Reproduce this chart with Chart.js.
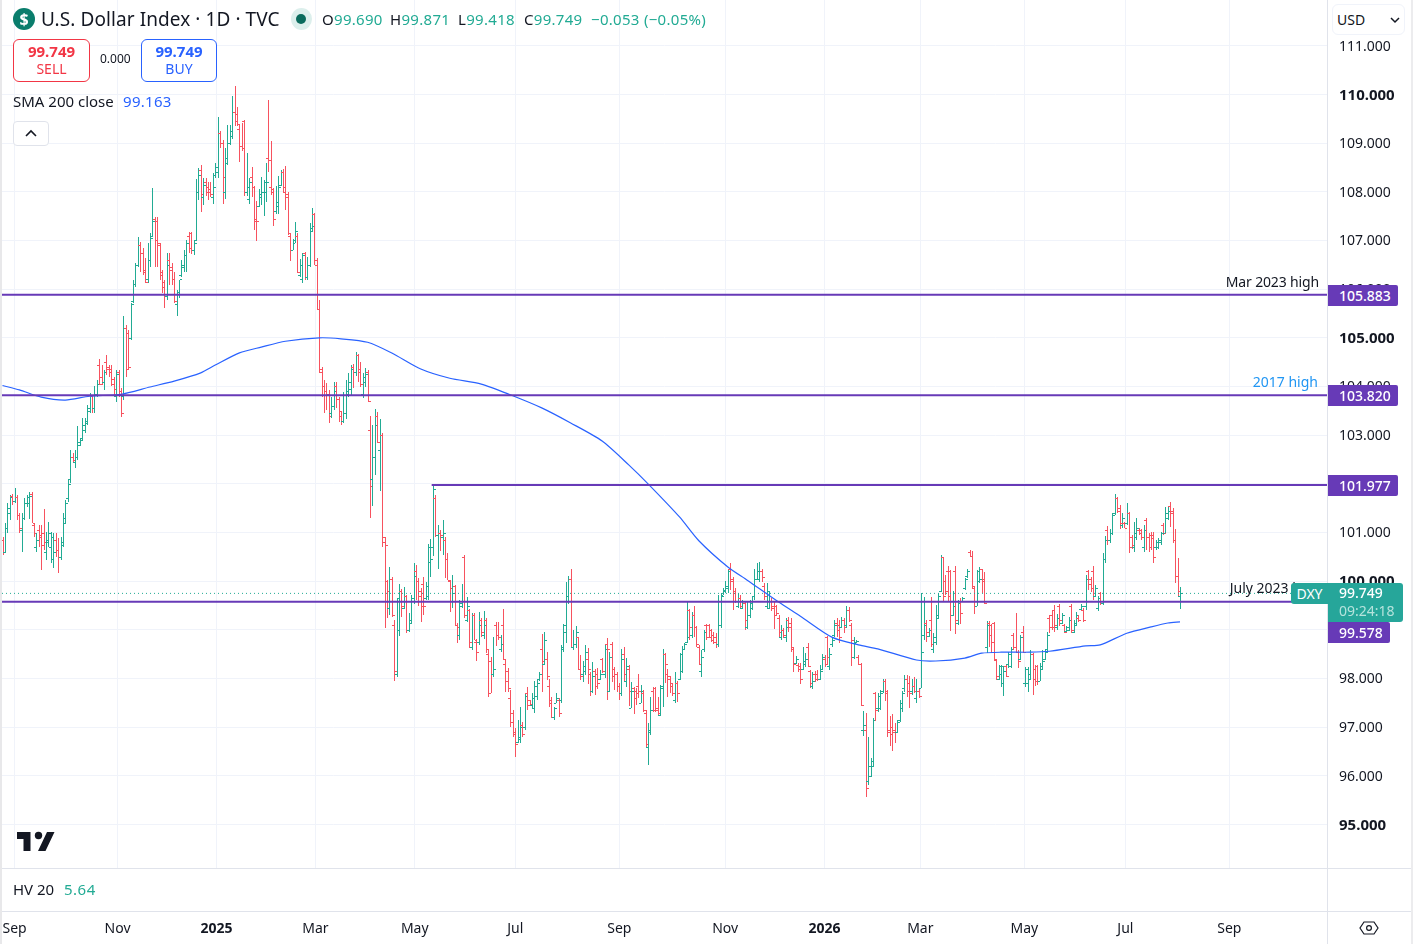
<!DOCTYPE html>
<html><head><meta charset="utf-8">
<script src="https://cdn.jsdelivr.net/npm/chart.js@4"></script>
<style>
html,body{margin:0;padding:0;background:#fff;width:1413px;height:944px;overflow:hidden;font-family:"Noto Sans",sans-serif;color:#131722}
#wrap{position:relative;width:1413px;height:944px}
canvas{position:absolute;left:0;top:0}
.t{position:absolute;white-space:nowrap;line-height:1}
.r{position:absolute}
.badge{position:absolute;left:1328px;background:#673ab7;color:#fff;font-size:14px;font-weight:500;height:21px;line-height:21px;padding-left:11px;box-sizing:border-box;border-radius:0 2px 2px 0}
.v{letter-spacing:.3px}
</style></head><body><div id="wrap">
<canvas id="c" width="1413" height="944"></canvas>

<div class="r" style="left:0;top:0;width:2px;height:944px;background:#e8e8ea"></div>
<div class="r" style="left:1411px;top:0;width:2px;height:944px;background:#ececee"></div>
<div class="r" style="left:1327px;top:0;width:1px;height:944px;background:#e0e3eb"></div>
<div class="r" style="left:2px;top:868px;width:1409px;height:1px;background:#e0e3eb"></div>
<div class="r" style="left:2px;top:911px;width:1409px;height:1px;background:#e0e3eb"></div>

<div class="r" style="left:13px;top:8px;width:22px;height:22px;border-radius:50%;background:#0a7d6c;color:#fff;font:700 16px/22px 'Noto Sans';text-align:center">$</div>
<div class="t" id="title" style="left:41px;top:10px;font-size:19px;letter-spacing:.08px">U.S. Dollar Index · 1D · TVC</div>
<div class="r" style="left:291px;top:8px;width:21px;height:22px;border-radius:50%;background:#dcefec"></div>
<div class="r" style="left:296px;top:14px;width:10px;height:10px;border-radius:50%;background:#0a6b5d"></div>
<div class="t v" style="left:322px;top:12px;font-size:15px">O<span style="color:#22ab94">99.690</span></div>
<div class="t v" style="left:390px;top:12px;font-size:15px">H<span style="color:#22ab94">99.871</span></div>
<div class="t v" style="left:458px;top:12px;font-size:15px">L<span style="color:#22ab94">99.418</span></div>
<div class="t v" style="left:524px;top:12px;font-size:15px">C<span style="color:#22ab94">99.749</span></div>
<div class="t v" style="left:591px;top:12px;font-size:15px;color:#22ab94">−0.053 (−0.05%)</div>

<div class="r" style="left:13px;top:39px;width:77px;height:43px;box-sizing:border-box;border:1px solid #f23645;border-radius:6px;background:#fff"></div>
<div class="t" style="left:13px;width:77px;text-align:center;top:44px;font-size:15px;font-weight:700;color:#f23645">99.749</div>
<div class="t" style="left:13px;width:77px;text-align:center;top:62px;font-size:14px;color:#f23645">SELL</div>
<div class="t" style="left:100px;top:53px;font-size:12px">0.000</div>
<div class="r" style="left:141px;top:39px;width:76px;height:43px;box-sizing:border-box;border:1px solid #2962ff;border-radius:6px;background:#fff"></div>
<div class="t" style="left:141px;width:76px;text-align:center;top:44px;font-size:15px;font-weight:700;color:#2962ff">99.749</div>
<div class="t" style="left:141px;width:76px;text-align:center;top:62px;font-size:14px;color:#2962ff">BUY</div>
<div class="t" style="left:13px;top:94px;font-size:15px">SMA 200 close</div>
<div class="t v" style="left:123px;top:94px;font-size:15px;color:#2962ff">99.163</div>
<div class="r" style="left:13px;top:121px;width:36px;height:25px;box-sizing:border-box;border:1px solid #e0e3eb;border-radius:4px;background:#fff"></div>
<svg class="r" style="left:13px;top:121px" width="36" height="25"><path d="M13 15 L18 10 L23 15" fill="none" stroke="#131722" stroke-width="1.6"/></svg>

<svg class="r" style="left:0;top:820px" width="70" height="40"><path d="M17 12H30.5V31H23.5V19H17Z M54.5 12L45.5 31H38L47 12Z" fill="#131722"/><circle cx="38.5" cy="15.5" r="3.7" fill="#131722"/></svg>

<div class="t" style="left:13px;top:882px;font-size:15px">HV 20</div>
<div class="t" style="left:64px;top:882px;font-size:15px;letter-spacing:.5px;color:#22ab94">5.64</div>

<div class="t" style="right:94px;top:275px;font-size:14px;letter-spacing:-.15px">Mar 2023 high</div>
<div class="t" style="right:95px;top:375px;font-size:14px;color:#2196f3">2017 high</div>
<div class="t" style="right:98px;top:581px;font-size:14px">July 2023 low</div>

<div class="r" style="left:1329px;top:0;width:81px;height:40px;background:#fff"></div>
<div class="r" style="left:1332px;top:4px;width:73px;height:31px;box-sizing:border-box;border:1px solid #f0f3fa;border-radius:6px;background:#fff"></div>
<div class="t" style="left:1337px;top:13px;font-size:14px">USD</div>
<svg class="r" style="left:1388px;top:15px" width="14" height="10"><path d="M3 3L7 7L11 3" fill="none" stroke="#131722" stroke-width="1.5"/></svg>

<div class="badge" style="top:285px;width:70px">105.883</div>
<div class="badge" style="top:385px;width:70px">103.820</div>
<div class="badge" style="top:475px;width:70px">101.977</div>
<div class="r" style="left:1291px;top:583px;width:37px;height:21px;background:#26a69a;border-radius:3px 0 0 3px;color:#fff;font-size:14px;line-height:21px;text-align:center">DXY</div>
<div class="r" style="left:1328px;top:583px;width:75px;height:39px;background:#26a69a;border-radius:0 3px 3px 0"></div>
<div class="t" style="left:1339px;top:586px;font-size:14px;font-weight:500;color:#fff">99.749</div>
<div class="t" style="left:1339px;top:604px;font-size:14px;color:#b5e3dc">09:24:18</div>
<div class="badge" style="top:622px;width:62px">99.578</div>

<svg class="r" style="left:1358px;top:918px" width="22" height="20"><path d="M6 4H16L20 10L16 16H6L2 10Z" fill="none" stroke="#131722" stroke-width="1.2"/><circle cx="11" cy="10" r="2.4" fill="none" stroke="#131722" stroke-width="1.2"/></svg>
</div>
<script>
const highs=[
100.91,101.19,101.6,101.78,101.8,101.91,101.78,101.4,101.4,101.7,
101.77,101.84,101.84,101.19,100.98,101.16,101.16,101.48,101.02,101.22,
101.02,100.98,100.98,100.88,100.91,101.4,101.67,102.1,102.7,102.63,
102.7,103.18,102.94,103.35,103.35,103.62,103.86,103.82,104.0,104.13,
104.56,104.44,104.34,104.65,104.44,104.44,104.2,104.34,104.34,103.96,
105.45,105.26,105.16,105.71,106.19,106.53,107.08,106.96,106.84,106.64,106.94,
107.15,108.07,107.49,107.49,106.94,106.4,106.19,106.74,106.74,106.53,
106.36,105.98,106.19,106.6,106.8,107.01,107.18,107.18,107.01,108.26,108.48,
108.55,108.29,108.29,108.21,108.21,108.38,108.59,109.54,109.24,109.07,
108.9,109.37,109.37,109.97,110.18,109.75,109.37,109.41,109.48,
108.79,108.28,108.5,108.11,107.81,108.06,108.3,108.24,108.59,109.89,
109.05,108.07,108.11,108.33,108.45,108.46,108.53,107.99,107.16,
107.04,107.37,107.16,106.63,106.75,106.77,106.67,107.35,107.66,107.57,
106.65,105.78,104.41,104.13,104.08,103.93,103.79,104.1,104.1,103.79,
103.48,103.89,104.13,104.27,104.44,104.46,104.7,104.67,104.5,104.27,
104.37,104.34,103.39,103.2,103.53,103.48,103.33,103.04,100.91,100.02,
100.29,100.09,99.2,99.65,99.94,99.84,99.89,99.72,99.34,
99.72,100.37,100.33,100.06,99.85,100.09,99.99,100.76,100.86,101.98,
101.77,101.15,101.05,101.26,100.91,100.57,100.02,100.13,99.92,99.15,
99.61,99.95,100.54,99.68,99.43,99.34,99.34,98.82,99.37,99.24,
99.39,99.24,98.59,98.45,98.86,99.17,99.17,98.9,99.42,98.38,
98.21,97.76,97.35,96.98,97.15,97.42,97.11,97.68,97.83,97.56,97.7,
97.94,97.97,98.14,98.92,98.96,98.54,97.99,97.63,97.42,97.7,
97.6,98.69,99.13,99.99,100.11,100.26,99.0,99.08,98.85,98.48,98.35,
98.69,98.62,98.14,98.33,98.19,98.21,98.17,98.43,98.69,98.83,
98.55,98.76,98.23,98.14,97.9,98.61,98.64,98.43,98.28,
97.93,97.83,97.8,98.09,97.87,97.76,97.35,97.08,97.63,97.83,
97.82,97.63,97.87,98.61,98.52,98.19,98.05,97.9,98.13,97.95,
98.52,98.67,98.72,99.58,99.42,99.37,99.49,99.08,98.69,98.59,
99.0,99.13,99.13,99.01,98.96,98.93,99.72,99.75,99.85,
100.01,100.26,100.37,100.09,99.85,99.76,99.72,99.61,99.58,99.58,
99.61,99.68,100.24,100.38,100.39,100.26,99.96,99.96,99.78,99.65,
99.58,99.51,99.3,99.1,99.03,99.24,99.27,99.24,98.65,98.46,
98.31,98.31,98.65,98.52,98.72,98.17,98.14,98.16,98.17,98.28,
98.5,98.48,98.87,98.62,98.85,99.2,99.24,99.2,99.27,
99.24,99.49,99.46,99.15,98.86,98.8,98.48,98.31,97.33,97.3,
96.79,96.36,97.18,97.73,97.7,97.76,97.98,97.98,97.76,97.22,
97.28,97.08,97.15,97.56,97.75,98.07,98.07,98.05,98.0,98.04,
97.98,97.8,99.75,99.68,99.2,99.04,99.68,98.93,99.51,99.75,
100.54,100.5,100.13,100.31,100.23,99.8,100.32,99.61,99.65,99.68,
100.06,100.24,100.64,100.63,99.89,100.23,100.3,100.26,100.19,99.18,
99.18,99.13,99.17,98.38,98.28,98.28,98.24,98.28,98.55,98.65,
98.93,99.34,98.59,98.89,99.07,98.24,98.24,98.59,98.52,98.28,
98.28,98.31,98.59,98.6,98.96,99.3,99.41,99.51,99.32,99.54,
99.34,99.13,99.07,99.27,99.53,99.2,99.37,99.3,99.54,99.44,
100.13,100.23,100.09,100.31,99.92,99.7,99.78,100.57,100.93,101.13,
101.07,101.41,101.8,101.73,101.56,101.41,101.22,101.6,101.43,100.95,
101.22,101.29,101.09,101.07,101.15,101.29,101.0,101.02,101.02,100.85,100.88,
101.02,101.19,101.53,101.53,101.63,101.5,101.07,100.47,99.871];
const lows=[
100.54,100.57,100.98,101.26,101.57,101.6,101.26,100.98,100.6,101.26,
101.53,101.27,101.19,100.91,100.6,100.71,100.23,100.64,100.43,100.71,
100.37,100.27,100.5,100.17,100.43,100.71,101.19,101.63,102.01,102.42,
102.32,102.49,102.77,102.9,103.04,103.21,103.45,103.46,103.45,103.79,
104.03,104.03,103.93,104.24,104.2,104.0,103.83,103.69,103.79,103.38,
103.72,104.2,104.34,104.96,105.71,106.05,106.46,106.36,106.29,106.12,106.12,
106.46,107.08,106.46,106.46,106.19,105.92,105.62,105.78,106.09,106.09,
105.71,105.44,105.81,106.26,106.36,106.36,106.74,106.72,106.7,106.99,107.83,
107.59,107.73,107.91,107.83,107.89,107.75,108.28,108.28,108.9,107.75,
107.85,108.55,108.96,109.08,109.36,109.36,108.62,108.84,107.92,
107.91,107.76,107.9,107.22,106.98,107.69,107.73,107.51,107.8,108.41,
107.94,107.3,107.54,107.54,108.11,108.0,107.63,107.11,106.57,
106.8,106.94,106.34,106.26,106.13,106.19,106.19,106.46,107.2,106.5,
105.57,104.27,103.79,103.45,103.52,103.24,103.35,103.52,103.55,103.28,
103.21,103.24,103.33,103.79,103.83,103.96,104.22,104.1,103.98,103.76,
103.99,103.69,101.29,101.55,102.18,102.83,101.85,100.71,99.03,99.24,
99.31,99.27,97.94,98.04,98.88,99.26,99.42,98.94,98.96,
99.13,99.54,99.61,99.48,99.17,99.31,99.61,99.61,100.09,100.52,
100.91,100.26,100.61,100.54,100.07,100.02,99.36,99.44,99.07,98.72,
98.8,99.44,99.24,99.17,98.62,98.59,98.79,98.36,98.69,98.86,
98.82,98.53,97.63,97.71,98.04,98.67,98.79,98.55,98.38,97.73,
97.73,97.01,96.79,96.39,96.67,96.67,96.8,96.94,97.35,97.46,97.4,
97.29,97.56,97.95,97.73,98.28,97.97,97.42,97.18,97.15,97.49,
97.2,97.49,98.55,98.72,99.54,98.62,98.59,98.62,98.17,97.97,97.93,
98.07,97.88,97.65,97.7,97.66,97.78,97.97,98.12,98.02,97.56,
97.73,97.93,97.76,97.73,97.56,97.65,97.93,97.83,97.44,
97.39,97.28,97.45,97.59,97.49,97.32,96.6,96.22,96.84,97.32,
97.32,97.25,97.22,97.42,97.9,97.63,97.7,97.65,97.49,97.52,
97.97,98.11,98.59,98.72,98.79,98.83,98.86,98.65,98.28,98.04,
98.55,98.79,98.83,98.74,98.71,98.63,98.65,99.03,99.72,
99.75,99.75,99.82,99.41,99.56,99.44,99.42,99.42,99.0,99.01,
99.24,99.41,99.61,100.02,99.99,99.99,99.61,99.44,99.42,99.39,
99.02,99.3,98.85,98.79,98.83,98.76,98.95,98.55,98.14,98.3,
98.14,97.89,98.17,98.24,98.24,97.8,97.78,97.93,97.95,97.97,
98.17,98.24,98.28,98.17,98.65,98.86,98.86,98.72,99.03,
98.93,99.03,99.17,98.26,98.41,98.72,98.28,97.44,96.82,95.57,
95.82,95.98,96.19,97.13,97.32,97.35,97.7,97.54,96.8,96.61,
96.52,96.67,96.87,97.11,97.32,97.73,97.63,97.39,97.66,97.7,
97.5,97.59,97.8,98.79,98.74,98.86,98.65,98.52,98.69,99.24,
99.78,99.58,99.72,99.58,98.98,99.28,98.91,99.1,99.13,99.58,
99.82,100.06,100.5,99.85,99.32,99.48,99.96,99.75,99.54,98.53,
98.65,98.52,98.38,97.97,97.97,97.83,97.65,98.04,98.21,98.21,
98.59,98.52,98.22,98.38,98.52,97.83,97.73,97.97,97.66,97.85,
97.87,97.94,98.17,98.38,98.55,98.93,99.0,98.96,99.0,99.07,
99.13,98.93,98.96,98.98,98.93,98.94,99.07,99.17,99.41,99.17,
99.41,99.82,99.78,99.61,99.68,99.39,99.51,99.51,100.37,100.74,
100.78,100.95,101.36,101.41,101.07,101.09,101.09,101.15,100.57,100.67,
100.6,100.85,100.95,100.85,100.6,100.64,100.6,100.64,100.37,100.65,100.67,
100.74,100.95,100.98,101.26,101.12,100.78,99.96,99.68,99.418];
const opens=[
100.85,100.6,101.1,101.4,101.75,101.65,101.72,101.35,101.05,101.3,
101.6,101.6,101.8,101.15,100.7,101.05,100.95,101.0,100.6,100.8,
100.7,100.45,100.85,100.65,100.5,100.8,101.3,101.7,102.1,102.55,
102.45,102.55,102.8,102.95,103.1,103.3,103.5,103.8,103.55,103.85,
104.45,104.2,104.1,104.5,104.4,104.35,104.15,103.8,104.3,103.9,
103.8,105.2,105.1,105.0,105.75,106.1,106.5,106.9,106.75,106.4,106.2,
106.6,107.1,107.45,107.4,106.9,106.3,106.15,105.85,106.6,106.4,
106.2,105.7,105.9,106.3,106.45,106.7,107.1,107.15,106.8,107.02,108.0,
108.45,107.9,108.2,108.1,108.05,107.9,108.35,108.4,109.2,109.0,
108.0,108.6,109.0,109.15,109.65,109.6,109.3,108.95,109.45,
108.0,107.85,108.3,108.1,107.45,107.7,107.9,108.0,108.0,108.7,
108.1,108.0,107.6,107.7,108.15,108.4,108.0,107.95,107.1,
106.8,106.95,107.1,106.3,106.2,106.75,106.25,106.5,107.25,107.55,
106.6,105.6,104.3,104.0,103.9,103.85,103.45,103.6,104.0,103.75,
103.4,103.3,103.45,103.9,103.95,104.4,104.3,104.65,104.35,103.85,
104.1,104.3,103.1,102.1,102.55,103.4,102.7,103.0,100.9,100.0,
99.45,100.05,99.1,98.1,99.0,99.8,99.45,99.7,99.0,
99.2,99.65,100.2,100.0,99.8,99.95,99.65,99.7,100.4,100.7,
101.7,100.95,101.0,100.9,100.85,100.45,100.0,99.6,99.9,99.1,
98.9,99.5,100.5,99.2,99.4,98.65,99.3,98.75,98.75,99.2,
98.9,99.2,98.5,98.35,98.1,99.1,98.9,98.6,99.1,98.3,
98.15,97.6,97.1,96.9,96.7,96.8,97.05,97.0,97.7,97.55,97.45,
97.4,97.65,98.0,98.6,98.3,98.4,97.85,97.55,97.2,97.5,
97.55,97.55,98.6,99.1,99.7,100.05,98.65,98.7,98.85,98.2,98.1,
98.15,98.4,98.1,97.75,98.15,98.1,98.0,98.4,98.1,98.7,
97.75,98.7,98.2,98.1,97.85,97.7,98.5,97.95,98.2,
97.4,97.8,97.75,97.85,97.5,97.7,97.3,96.6,96.95,97.75,
97.8,97.4,97.25,97.8,98.5,98.1,98.0,97.85,97.55,97.9,
98.0,98.15,98.6,98.75,99.4,98.9,99.3,99.05,98.65,98.15,
98.6,99.1,99.1,99.0,98.9,98.85,98.7,99.1,99.72,
99.8,99.85,100.25,100.0,99.75,99.5,99.65,99.45,99.55,99.05,
99.3,99.45,99.7,100.05,100.05,100.2,99.9,99.5,99.45,99.6,
99.5,99.5,99.25,98.85,99.0,98.85,99.2,99.15,98.6,98.32,
98.28,98.25,98.2,98.3,98.65,98.15,97.85,98.1,98.1,98.0,
98.2,98.4,98.85,98.25,98.7,98.9,99.15,99.1,99.05,
99.2,99.1,99.4,99.1,98.45,98.73,98.45,98.3,96.95,96.95,
95.9,96.0,96.3,97.7,97.4,97.4,97.75,97.95,97.7,96.95,
97.0,96.95,96.9,97.15,97.4,97.8,98.0,97.9,97.75,97.85,
97.6,97.75,97.8,98.9,99.15,98.88,99.2,98.6,98.75,99.3,
99.8,100.5,100.0,100.2,100.2,99.3,100.2,99.15,99.6,99.6,
99.85,100.1,100.6,100.52,99.85,99.5,100.0,100.25,100.05,98.65,
99.15,99.1,99.15,98.37,98.0,98.1,97.9,98.25,98.3,98.25,
98.9,98.65,98.55,98.4,98.95,97.9,97.9,98.0,98.5,98.2,
98.25,97.95,98.2,98.4,98.6,99.25,99.3,99.4,99.05,99.5,
99.15,99.1,98.98,99.0,99.5,98.95,99.1,99.25,99.42,99.4,
99.5,100.2,100.05,100.2,99.7,99.45,99.75,99.55,100.45,101.05,
100.85,101.0,101.4,101.7,101.5,101.15,101.2,101.2,101.4,100.9,
100.7,100.9,101.05,101.05,100.7,101.25,100.9,100.95,100.95,100.7,100.7,
100.8,101.15,101.0,101.3,101.55,101.45,100.85,100.1,99.69];
const closes=[
100.6,101.1,101.5,101.72,101.65,101.72,101.35,101.1,101.3,101.6,
101.72,101.75,101.2,100.98,100.85,100.9,100.75,100.8,100.85,101.0,
100.9,100.6,100.65,100.5,100.75,101.2,101.6,102.0,102.55,102.5,
102.55,102.85,102.9,103.2,103.25,103.55,103.8,103.55,103.85,104.05,
104.05,104.1,104.3,104.35,104.3,104.05,103.95,104.25,103.85,103.45,
105.2,104.35,104.4,105.7,106.1,106.5,106.9,106.75,106.35,106.15,106.6,
107.05,107.4,107.0,106.95,106.35,106.05,105.85,106.5,106.45,106.2,
105.75,105.95,106.2,106.5,106.7,106.95,106.85,106.8,106.95,108.0,108.35,
107.95,108.15,108.0,108.0,107.95,108.1,108.5,109.2,109.0,108.3,
108.7,109.0,109.25,109.65,109.45,109.4,108.95,108.9,108.0,
108.1,108.2,108.1,107.4,107.4,107.95,108.0,108.2,108.2,108.65,
108.05,107.45,107.8,108.1,108.4,108.1,107.9,107.15,106.8,
107.0,107.2,106.35,106.5,106.7,106.25,106.5,107.2,107.3,106.5,
105.6,104.35,104.0,103.9,103.85,103.4,103.6,103.9,103.75,103.5,
103.3,103.45,103.85,104.1,104.35,104.3,104.65,104.3,104.05,104.2,
104.25,103.7,101.95,102.55,103.2,102.85,103.0,100.8,100.75,99.8,
100.05,99.3,98.15,99.65,99.6,99.5,99.6,99.0,99.15,
99.6,100.1,100.0,99.7,99.5,99.5,99.9,100.7,100.45,101.9,
100.95,101.0,100.95,101.0,100.45,100.02,99.85,99.75,99.1,99.05,
99.55,99.6,99.3,99.5,98.75,99.3,98.8,98.55,99.1,98.95,
99.1,98.6,97.7,98.1,98.2,98.9,98.85,98.7,98.4,97.95,
97.8,97.3,96.85,96.65,96.75,97.0,96.85,97.65,97.45,97.47,97.6,
97.85,97.9,98.1,98.35,98.8,98.05,97.5,97.2,97.4,97.6,
97.3,98.65,98.95,99.7,100.05,98.65,98.7,98.95,98.2,98.05,98.25,
98.55,98.2,97.75,98.05,97.85,97.9,98.1,98.15,98.6,98.6,
98.45,98.05,98.1,97.85,97.7,98.4,98.1,98.25,97.75,
97.75,97.6,97.7,97.75,97.75,97.35,96.65,96.9,97.35,97.35,
97.35,97.3,97.85,98.5,98.3,98.05,97.9,97.7,97.9,97.7,
98.5,98.6,98.7,98.85,99.05,99.3,99.05,98.7,98.3,98.45,
98.95,98.85,98.85,98.8,98.75,98.7,99.1,99.7,99.82,
99.9,100.2,100.05,99.8,99.6,99.65,99.5,99.55,99.2,99.3,
99.55,99.6,100.05,100.2,100.2,100.08,99.7,99.8,99.6,99.45,
99.3,99.35,98.95,99.0,98.9,99.05,99.05,98.65,98.3,98.4,
98.2,98.0,98.35,98.4,98.25,97.9,97.95,98.0,97.98,98.15,
98.45,98.3,98.45,98.5,98.8,99.1,99.0,98.85,99.2,
99.05,99.4,99.2,98.8,98.75,98.78,98.3,97.45,97.05,95.75,
96.2,96.2,97.15,97.35,97.65,97.7,97.95,97.75,96.9,96.85,
96.9,96.9,97.1,97.5,97.7,98.0,97.75,97.7,97.85,97.75,
97.75,97.65,98.55,99.1,98.95,99.0,98.7,98.85,99.25,99.7,
100.5,99.7,99.8,99.7,99.3,99.5,99.2,99.55,99.35,99.65,
100.05,100.2,100.52,99.9,99.6,100.2,100.05,100.0,99.55,99.1,
98.9,98.75,98.4,98.05,98.25,98.25,98.15,98.05,98.5,98.6,
98.65,98.55,98.35,98.85,98.55,98.2,98.1,98.5,98.0,97.95,
97.95,98.25,98.35,98.55,98.9,99.05,99.05,99.1,99.25,99.2,
99.3,98.95,99.05,99.2,99.0,99.15,99.3,99.2,99.5,99.2,
100.05,99.95,99.85,99.7,99.85,99.65,99.55,100.45,100.85,100.85,
101.0,101.35,101.7,101.45,101.2,101.3,101.1,101.4,100.7,100.75,
101.0,101.1,100.98,100.9,101.05,100.9,100.7,100.88,100.5,100.8,100.85,
101.0,101.0,101.4,101.45,101.4,100.85,100.1,99.8,99.749];
const smaIdx=[0,7,16,26,36,49,61,71,82,88,98,107,117,131,140,151,161,173,185,198,210,223,235,248,259,267,280,288,300,308,321,330,343,354,362,378,386,398,405,413,425,433,448,454,465,475,482,487];
const smaVals=[104.02,103.93,103.78,103.72,103.80,103.84,103.99,104.11,104.28,104.44,104.69,104.81,104.93,105.0,104.98,104.91,104.69,104.36,104.17,104.05,103.83,103.56,103.25,102.88,102.39,102.0,101.32,100.83,100.29,100.02,99.57,99.28,98.85,98.69,98.61,98.38,98.36,98.42,98.52,98.54,98.54,98.56,98.67,98.69,98.93,99.06,99.14,99.163];
const levelValues=[105.883,103.820,99.578];
const shortLevelValue=101.977;
const shortLevelStartIdx=177.5;
const lastPrice=99.749;
const monthLabels=['Sep','Nov','2025','Mar','May','Jul','Sep','Nov','2026','Mar','May','Jul','Sep'];
const monthIdx=[5,47.6,88.5,129.4,170.5,212.1,255.1,298.9,340,379.6,422.6,464.4,507.4];
const yearLabels=['2025','2026'];
const priceTicks=[95,96,97,98,99,100,101,102,103,104,105,106,107,108,109,110,111];
const boldPrices=[95,100,105,110];

const TEAL='#22ab94',RED='#f7525f',PURPLE='#673ab7',BLUE='#2962ff',GRID='#f0f3fa',TEXT='#131722',FONT='"Noto Sans",sans-serif';
const n=closes.length, spacing=1177.5/(n-1);
const xMin=(2-2.5)/spacing, xMax=(1327-2.5)/spacing;
const pxPerUnit=730/15, yMax=110+94.5/pxPerUnit, yMin=95-(868-824.5)/pxPerUnit;

const noPad=s=>{s.paddingLeft=0;s.paddingRight=0;s.paddingTop=0;s.paddingBottom=0};
const ohlcPlugin={id:'ohlc',beforeDatasetDraw(chart,args){
  if(args.meta.type!=='bar')return;
  const c=chart.ctx,xs=chart.scales.x,ys=chart.scales.y;
  c.save();
  for(let i=0;i<n;i++){
    const x=Math.round(xs.getPixelForValue(i));
    const top=Math.round(ys.getPixelForValue(highs[i])),bot=Math.round(ys.getPixelForValue(lows[i]));
    c.fillStyle=closes[i]>=opens[i]?TEAL:RED;
    c.fillRect(x,top,1,Math.max(1,bot-top));
    c.fillRect(x-2,Math.round(ys.getPixelForValue(opens[i])),2,1);
    c.fillRect(x+1,Math.round(ys.getPixelForValue(closes[i])),2,1);
  }
  c.restore();
  return false;
}};
const flat=(v,a,b,color,w,dash,order)=>({type:'line',data:[{x:a,y:v},{x:b,y:v}],borderColor:color,borderWidth:w,borderDash:dash||[],pointRadius:0,order:order,tension:0});
new Chart(document.getElementById('c'),{
  type:'bar',
  plugins:[ohlcPlugin],
  data:{datasets:[
    {type:'bar',label:'DXY',order:5,data:closes.map((_,i)=>({x:i,y:[lows[i],highs[i]]})),backgroundColor:closes.map((v,i)=>v>=opens[i]?TEAL:RED),barThickness:1},
    {type:'line',label:'SMA 200',order:2,data:smaIdx.map((x,i)=>({x:x,y:smaVals[i]})),borderColor:BLUE,borderWidth:1.2,pointRadius:0,tension:0.25},
    flat(lastPrice,xMin,xMax,TEAL,1,[1,3],3),
    ...levelValues.map(v=>flat(v,xMin,xMax,PURPLE,2,null,1)),
    flat(shortLevelValue,shortLevelStartIdx,xMax,PURPLE,2,null,1)
  ]},
  options:{
    responsive:false,animation:false,devicePixelRatio:1,events:[],
    layout:{padding:{left:2,top:0,right:0,bottom:0}},
    plugins:{legend:{display:false},tooltip:{enabled:false}},
    scales:{
      x:{type:'linear',position:'bottom',min:xMin,max:xMax,offset:false,
        afterFit:s=>{s.height=76;noPad(s)},
        afterBuildTicks:s=>{s.ticks=monthIdx.map(v=>({value:v}))},
        grid:{color:GRID,drawTicks:false,offset:false},border:{display:false},
        ticks:{autoSkip:false,maxRotation:0,padding:53,color:TEXT,
          callback:v=>monthLabels[monthIdx.indexOf(v)],
          font:ctx=>({family:FONT,size:14,weight:yearLabels.includes(monthLabels[monthIdx.indexOf(ctx.tick&&ctx.tick.value)])?'700':'400'})}},
      y:{type:'linear',position:'right',min:yMin,max:yMax,
        afterFit:s=>{s.width=86;noPad(s)},
        afterBuildTicks:s=>{s.ticks=priceTicks.map(v=>({value:v}))},
        grid:{color:GRID,drawTicks:false,offset:false},border:{display:false},
        ticks:{autoSkip:false,padding:12,labelOffset:1,color:TEXT,align:'center',crossAlign:'near',
          callback:v=>v.toFixed(3),
          font:ctx=>({family:FONT,size:boldPrices.includes(ctx.tick&&ctx.tick.value)?15:14,weight:boldPrices.includes(ctx.tick&&ctx.tick.value)?'700':'400'})}}
    }
  }
});
</script></body></html>
